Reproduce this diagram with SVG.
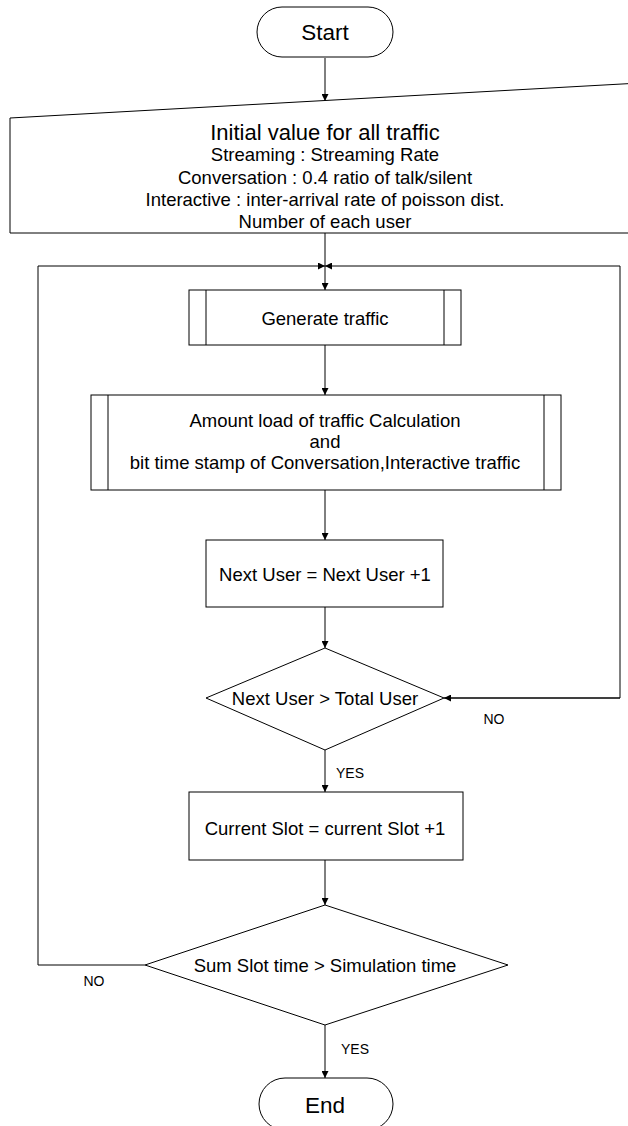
<svg xmlns="http://www.w3.org/2000/svg" width="628" height="1126" viewBox="0 0 628 1126">
  <style>
    .shape { fill: #ffffff; stroke: #000000; stroke-width: 1; }
    .wire { fill: none; stroke: #000000; stroke-width: 1; }
    text { font-family: "Liberation Sans", Arial, sans-serif; fill: #000000; text-anchor: middle; dominant-baseline: central; }
    .term { font-size: 22.5px; }
    .title { font-size: 22px; }
    .mid { font-size: 18.5px; }
    .lbl { font-size: 14px; }
  </style>
  <defs>
    <marker id="arrow" viewBox="0 0 10 10" refX="10" refY="5" markerWidth="7" markerHeight="7" markerUnits="userSpaceOnUse" orient="auto">
      <path d="M0,0 L10,5 L0,10 z" fill="#000000"/>
    </marker>
  </defs>
  <rect width="628" height="1126" fill="#ffffff"/>

  <g id="connectors">
    <line class="wire" x1="325" y1="58" x2="325" y2="101" marker-end="url(#arrow)"/>
    <line class="wire" x1="325" y1="233" x2="325" y2="266"/>
    <line class="wire" x1="325" y1="266" x2="325" y2="290" marker-end="url(#arrow)"/>
    <line class="wire" x1="325" y1="345" x2="325" y2="395" marker-end="url(#arrow)"/>
    <line class="wire" x1="325" y1="490" x2="325" y2="540" marker-end="url(#arrow)"/>
    <line class="wire" x1="325" y1="607" x2="325" y2="648" marker-end="url(#arrow)"/>
    <line class="wire" x1="325" y1="750" x2="325" y2="792" marker-end="url(#arrow)"/>
    <line class="wire" x1="325" y1="860" x2="325" y2="905" marker-end="url(#arrow)"/>
    <line class="wire" x1="325" y1="1025" x2="325" y2="1078" marker-end="url(#arrow)"/>
    <!-- inner loop: NO back to the top -->
    <polyline class="wire" points="444,698 620,698 620,266 325,266" marker-end="url(#arrow)"/>
    <line class="wire" x1="620" y1="698" x2="444" y2="698" marker-end="url(#arrow)"/>
    <!-- outer loop: NO back to the top -->
    <polyline class="wire" points="145,965 38,965 38,266 325,266" marker-end="url(#arrow)"/>
    <text class="lbl" x="494" y="719">NO</text>
    <text class="lbl" x="350" y="773">YES</text>
    <text class="lbl" x="94" y="981">NO</text>
    <text class="lbl" x="355" y="1049">YES</text>
  </g>

  <g id="start">
    <rect class="shape" x="257" y="7" width="136" height="50" rx="25" ry="25"/>
    <text class="term" x="325" y="32">Start</text>
  </g>

  <g id="init">
    <polygon class="shape" points="10,118 640,83 640,233 10,233"/>
    <text class="title" x="325" y="132">Initial value for all traffic</text>
    <text class="mid" x="325" y="154">Streaming : Streaming Rate</text>
    <text class="mid" x="325" y="177">Conversation : 0.4 ratio of talk/silent</text>
    <text class="mid" x="325" y="199">Interactive : inter-arrival rate of poisson dist.</text>
    <text class="mid" x="325" y="221">Number of each user</text>
  </g>

  <g id="generate">
    <rect class="shape" x="189" y="290" width="272" height="55"/>
    <line class="wire" x1="206" y1="290" x2="206" y2="345"/>
    <line class="wire" x1="444" y1="290" x2="444" y2="345"/>
    <text class="mid" x="325" y="318">Generate traffic</text>
  </g>

  <g id="load">
    <rect class="shape" x="91" y="395" width="470" height="95"/>
    <line class="wire" x1="108" y1="395" x2="108" y2="490"/>
    <line class="wire" x1="544" y1="395" x2="544" y2="490"/>
    <text class="mid" x="325" y="420">Amount load of traffic Calculation</text>
    <text class="mid" x="325" y="441">and</text>
    <text class="mid" x="325" y="462">bit time stamp of Conversation,Interactive traffic</text>
  </g>

  <g id="next-user">
    <rect class="shape" x="206" y="540" width="237" height="67"/>
    <text class="mid" x="325" y="574">Next User = Next User +1</text>
  </g>

  <g id="user-check">
    <polygon class="shape" points="325,648 444,698 325,750 206,698"/>
    <text class="mid" x="325" y="698">Next User &gt; Total User</text>
  </g>

  <g id="current-slot">
    <rect class="shape" x="189" y="792" width="274" height="68"/>
    <text class="mid" x="325" y="828">Current Slot = current Slot +1</text>
  </g>

  <g id="time-check">
    <polygon class="shape" points="325,905 508,965 325,1025 145,965"/>
    <text class="mid" x="325" y="965">Sum Slot time &gt; Simulation time</text>
  </g>

  <g id="end">
    <rect class="shape" x="259" y="1078" width="134" height="52" rx="26" ry="26"/>
    <text class="term" x="325" y="1105">End</text>
  </g>
</svg>
